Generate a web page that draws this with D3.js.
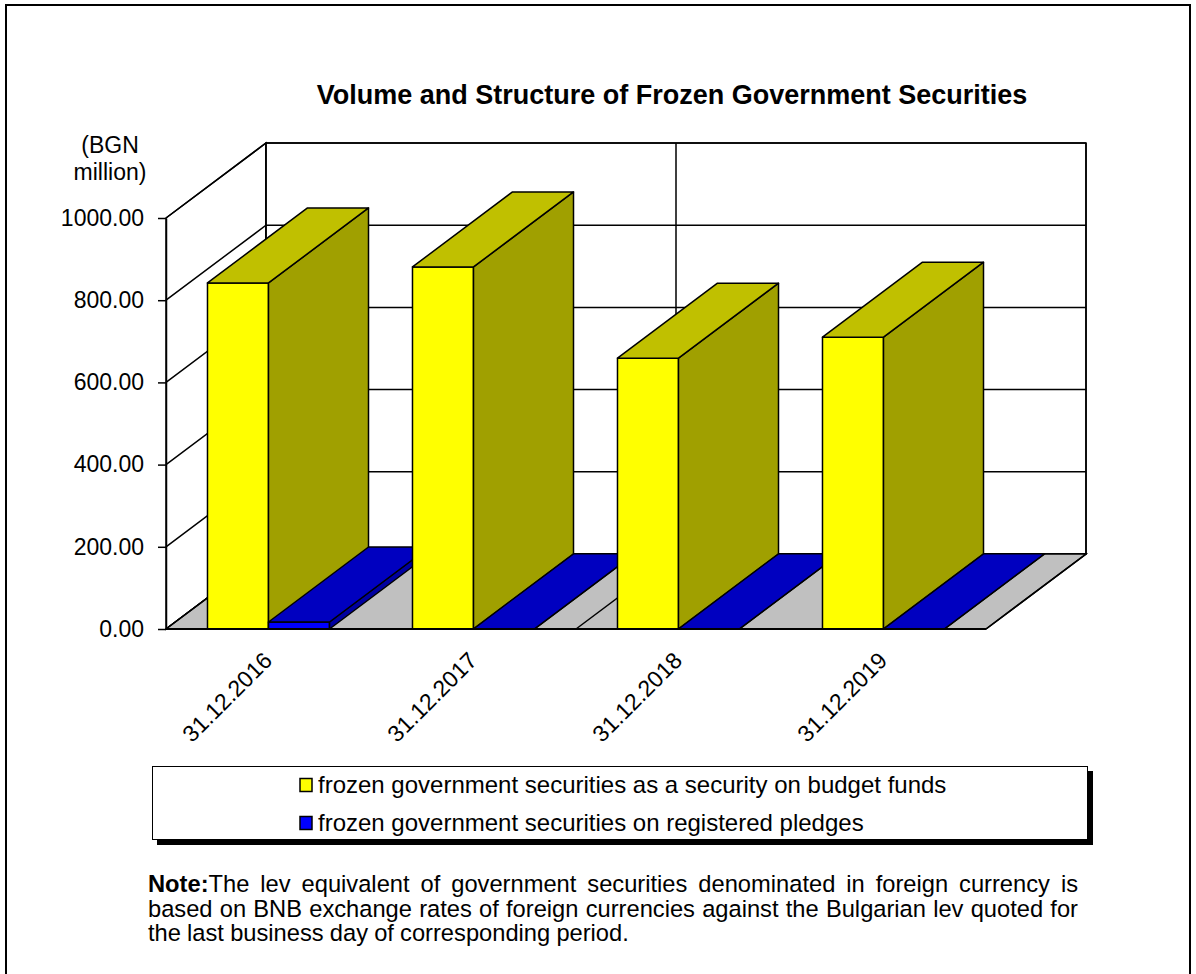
<!DOCTYPE html>
<html>
<head>
<meta charset="utf-8">
<script src="https://cdn.jsdelivr.net/npm/d3@7"></script>
<style>
  html, body { margin: 0; padding: 0; background: #fff; }
  svg { display: block; font-family: "Liberation Sans", Arial, sans-serif; }
</style>
</head>
<body>
<svg id="chart" width="1196" height="974"></svg>
<script>
// ---- data ----
const categories = ["31.12.2016", "31.12.2017", "31.12.2018", "31.12.2019"];
const budgetFunds = [842, 881, 659, 710];
const registeredPledges = [17, 0.5, 0.5, 0.5];
const seriesNames = [
  "frozen government securities as a security on budget funds",
  "frozen government securities on registered pledges"
];
const yTicks = [0, 200, 400, 600, 800, 1000];
const titleText = "Volume and Structure of Frozen Government Securities";
const unitLines = ["(BGN", "million)"];
const noteLines = [
  "The lev equivalent of government securities denominated in foreign currency is",
  "based on BNB exchange rates of foreign currencies against the Bulgarian lev quoted for",
  "the last business day of corresponding period."
];

// ---- styles ----
const seriesColors = [
  { front: "#FFFF00", side: "#A0A000", top: "#C0C000" },
  { front: "#0000FF", side: "#0000A0", top: "#0000C0" }
];
const DX = 100, DY = -75;

const svg = d3.select("#chart");

// outer frame
svg.append("rect").attr("x", 6).attr("y", 5).attr("width", 1184).attr("height", 1000)
  .attr("fill", "none").attr("stroke", "#000").attr("stroke-width", 2);

// scales
const x = d3.scaleBand().domain(categories).range([166, 986]).padding(0);
const sub = d3.scaleBand().domain([0, 1]).range([0, x.bandwidth()]).paddingInner(0).paddingOuter(0.68);
const y = d3.scaleLinear().domain([0, 1000]).range([629, 218]);
const y0 = y(0), yMax = y(1000);
const xL = x.range()[0], xR = x.range()[1];

const line = d3.line();
const poly = pts => line(pts) + "Z";

// side wall
svg.append("path")
  .attr("d", poly([[xL, y0], [xL, yMax], [xL + DX, yMax + DY], [xL + DX, y0 + DY]]))
  .attr("fill", "#fff").attr("stroke", "#000").attr("stroke-width", 1.5);
// back wall
svg.append("path")
  .attr("d", poly([[xL + DX, y0 + DY], [xL + DX, yMax + DY], [xR + DX, yMax + DY], [xR + DX, y0 + DY]]))
  .attr("fill", "#fff").attr("stroke", "#000").attr("stroke-width", 1.5);
// gridlines on walls
const grid = svg.append("g").attr("stroke", "#000").attr("stroke-width", 1.5).attr("fill", "none");
yTicks.forEach(t => {
  grid.append("path").attr("d", line([[xL, y(t)], [xL + DX, y(t) + DY], [xR + DX, y(t) + DY]]));
});
// floor
svg.append("path")
  .attr("d", poly([[xL, y0], [xR, y0], [xR + DX, y0 + DY], [xL + DX, y0 + DY]]))
  .attr("fill", "#C0C0C0").attr("stroke", "#000").attr("stroke-width", 1.5);
// category gridlines (every 2 categories)
const bounds = [x(categories[0]), x(categories[2]), xR];
bounds.forEach(bx => {
  svg.append("path").attr("d", line([[bx, y0], [bx + DX, y0 + DY], [bx + DX, yMax + DY]]))
    .attr("fill", "none").attr("stroke", "#000").attr("stroke-width", 1.5);
});

// bars (left to right, each fully drawn)
const barsG = svg.append("g").attr("stroke", "#000").attr("stroke-width", 1.5).attr("stroke-linejoin", "round");
const allSeries = [budgetFunds, registeredPledges];
categories.forEach((c, i) => {
  allSeries.forEach((vals, s) => {
    const x0 = x(c) + sub(s), x1 = x0 + sub.bandwidth();
    const yt = y(vals[i]), yb = y0;
    const col = seriesColors[s];
    barsG.append("path").attr("d", poly([[x0, yb], [x1, yb], [x1, yt], [x0, yt]])).attr("fill", col.front);
    barsG.append("path").attr("d", poly([[x1, yb], [x1 + DX, yb + DY], [x1 + DX, yt + DY], [x1, yt]])).attr("fill", col.side);
    barsG.append("path").attr("d", poly([[x0, yt], [x1, yt], [x1 + DX, yt + DY], [x0 + DX, yt + DY]])).attr("fill", col.top);
  });
});

// y axis
const yAxis = svg.append("g").attr("transform", `translate(${xL},0)`)
  .call(d3.axisLeft(y).tickValues(yTicks).tickFormat(d3.format(".2f")).tickSize(8).tickSizeOuter(0).tickPadding(14));
yAxis.select(".domain").attr("stroke", "#000").attr("stroke-width", 1.5);
yAxis.selectAll(".tick line").attr("stroke", "#000").attr("stroke-width", 1.5);
yAxis.selectAll(".tick text").attr("font-size", 23).attr("fill", "#000")
  .attr("font-family", "Liberation Sans, Arial, sans-serif");

// front floor edge (category axis line)
svg.append("line").attr("x1", xL).attr("x2", xR).attr("y1", y0).attr("y2", y0)
  .attr("stroke", "#000").attr("stroke-width", 2);

// category labels
const xAxis = svg.append("g").attr("transform", `translate(0,${y0})`)
  .call(d3.axisBottom(x).tickSize(0).tickPadding(0));
xAxis.select(".domain").remove();
xAxis.selectAll(".tick text")
  .attr("font-size", 23).attr("fill", "#000")
  .attr("font-family", "Liberation Sans, Arial, sans-serif")
  .attr("text-anchor", "end")
  .attr("dy", 0)
  .attr("transform", "translate(5,33) rotate(-45)");

// unit label
svg.append("g").selectAll("text").data(unitLines).join("text")
  .attr("x", 110).attr("y", (d, i) => 153 + i * 27)
  .attr("text-anchor", "middle").attr("font-size", 23).text(d => d);

// title
svg.append("text").attr("x", 672).attr("y", 104).attr("text-anchor", "middle")
  .attr("font-size", 27).attr("font-weight", "bold").text(titleText);

// legend
svg.append("rect").attr("x", 157).attr("y", 771).attr("width", 936).attr("height", 74).attr("fill", "#000");
svg.append("rect").attr("x", 152.5).attr("y", 766.5).attr("width", 935).attr("height", 73)
  .attr("fill", "#fff").attr("stroke", "#000").attr("stroke-width", 1);
const leg = svg.append("g").selectAll("g").data(seriesNames).join("g")
  .attr("transform", (d, i) => `translate(300,${785 + i * 38})`);
leg.append("rect").attr("x", 0).attr("y", -6.5).attr("width", 12).attr("height", 13)
  .attr("fill", (d, i) => seriesColors[i].front).attr("stroke", "#000").attr("stroke-width", 1.5);
leg.append("text").attr("x", 18).attr("y", 0).attr("dy", "0.35em").attr("font-size", 24).text(d => d);

// note (first two lines justified)
const noteX0 = 148, noteX1 = 1078, noteFont = 23.7;
const noteBaselines = [892, 917, 941];
noteLines.forEach((ln, li) => {
  const words = ln.split(" ");
  const g = svg.append("g");
  const items = [];
  if (li === 0) items.push({ t: "Note:", bold: true, attach: true });
  words.forEach(w => items.push({ t: w, bold: false }));
  const nodes = items.map(it => g.append("text").attr("y", noteBaselines[li])
    .attr("font-size", noteFont).attr("font-weight", it.bold ? "bold" : "normal").text(it.t));
  const widths = nodes.map(n => n.node().getComputedTextLength());
  const groups = [];
  items.forEach((it, k) => {
    if (k > 0 && items[k - 1].attach) groups[groups.length - 1].push(k);
    else groups.push([k]);
  });
  const gw = groups.map(gr => d3.sum(gr, k => widths[k]));
  const justify = li < noteLines.length - 1;
  const spaceW = noteFont * 0.26;
  const gap = justify ? Math.max(2, (noteX1 - noteX0 - d3.sum(gw)) / (groups.length - 1)) : spaceW;
  let cx = noteX0;
  groups.forEach((gr, gi) => {
    let px = cx;
    gr.forEach(k => { nodes[k].attr("x", px); px += widths[k]; });
    cx += gw[gi] + gap;
  });
});
</script>
</body>
</html>
